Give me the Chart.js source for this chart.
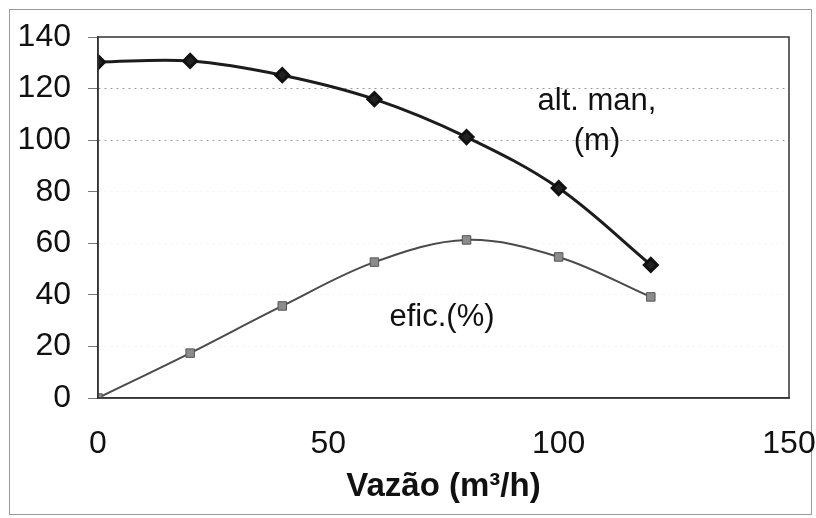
<!DOCTYPE html>
<html>
<head>
<meta charset="utf-8">
<script src="https://cdn.jsdelivr.net/npm/chart.js@4/dist/chart.umd.min.js"></script>
<style>
  html, body { margin: 0; padding: 0; background: #fff; }
  #wrap { width: 816px; height: 518px; position: relative; }
</style>
</head>
<body>
<div id="wrap"><canvas id="curva"></canvas></div>
<script>
// curva da bomba: altura manométrica e eficiência x vazão
const vazao = [0, 20, 40, 60, 80, 100, 120];
const altMan = [130.3, 130.7, 125.2, 115.9, 101.2, 81.4, 51.6];
const eficiencia = [0, 17.4, 35.7, 52.7, 61.3, 54.7, 39.2];
const xTicks = [0, 50, 100, 150];
const yTicks = [0, 20, 40, 60, 80, 100, 120, 140];

const FONT = 'Arial, "Liberation Sans", sans-serif';
Chart.defaults.font.family = FONT;
Chart.defaults.color = '#111';

// moldura externa, caixa da área do gráfico e rótulos das curvas
const extras = {
    id: 'extras',
    beforeDraw(chart) {
        const ctx = chart.ctx;
        ctx.save();
        ctx.fillStyle = '#fff';
        ctx.fillRect(0, 0, chart.width, chart.height);
        ctx.strokeStyle = '#9a9a9a';
        ctx.lineWidth = 1;
        ctx.strokeRect(9.5, 9.5, 802, 505);
        ctx.restore();
    },
    afterDatasetsDraw(chart) {
        const { ctx, chartArea: a } = chart;
        ctx.save();
        ctx.strokeStyle = '#333';
        ctx.lineWidth = 1.5;
        ctx.strokeRect(a.left, a.top, a.right - a.left, a.bottom - a.top);
        ctx.fillStyle = '#111';
        ctx.font = '31px ' + FONT;
        ctx.textAlign = 'center';
        ctx.textBaseline = 'middle';
        ctx.fillText('alt. man,', 597, 101);
        ctx.fillText('(m)', 597, 141);
        ctx.fillText('efic.(%)', 442, 317);
        ctx.restore();
    }
};

new Chart(document.getElementById('curva'), {
    type: 'line',
    data: {
        datasets: [
            {
                label: 'alt. man, (m)',
                data: vazao.map((v, i) => ({ x: v, y: altMan[i] })),
                borderColor: '#1c1c1c',
                borderWidth: 3,
                pointStyle: 'rectRot',
                pointRadius: 6.5,
                pointBackgroundColor: '#222',
                pointBorderColor: '#111',
                tension: 0.35
            },
            {
                label: 'efic.(%)',
                data: vazao.map((v, i) => ({ x: v, y: eficiencia[i] })),
                borderColor: '#4a4a4a',
                borderWidth: 2,
                pointStyle: 'rect',
                pointRadius: 6,
                pointBackgroundColor: '#8c8c8c',
                pointBorderColor: '#555',
                pointBorderWidth: 1,
                tension: 0.35
            }
        ]
    },
    options: {
        responsive: true,
        maintainAspectRatio: false,
        animation: false,
        layout: { padding: { top: 37, right: 27, bottom: 11, left: 0 } },
        plugins: { legend: { display: false }, tooltip: { enabled: false } },
        scales: {
            x: {
                type: 'linear',
                min: 0,
                max: 150,
                afterBuildTicks: s => { s.ticks = xTicks.map(v => ({ value: v })); },
                afterFit: s => { s.height = 109; s.paddingLeft = 0; s.paddingRight = 0; },
                grid: { display: false, drawTicks: false },
                border: { display: true, color: '#333', width: 1.5 },
                ticks: { padding: 27, font: { size: 32 }, color: '#111', maxRotation: 0 },
                title: {
                    display: true,
                    text: 'Vazão (m³/h)',
                    font: { size: 33, weight: 'bold' },
                    color: '#111',
                    padding: 0
                }
            },
            y: {
                min: 0,
                max: 140,
                afterBuildTicks: s => { s.ticks = yTicks.map(v => ({ value: v })); },
                afterFit: s => { s.width = 98; },
                grid: {
                    color: c => (c.tick && (c.tick.value === 100 || c.tick.value === 120)) ? '#9a9a9a' : 'rgba(0,0,0,0.06)',
                    tickColor: '#777',
                    tickLength: 10,
                    lineWidth: 1
                },
                border: { display: true, color: '#333', width: 1.5, dash: [2, 4] },
                ticks: { padding: 17, font: { size: 32 }, color: '#111' }
            }
        }
    },
    plugins: [extras]
});
</script>
</body>
</html>
